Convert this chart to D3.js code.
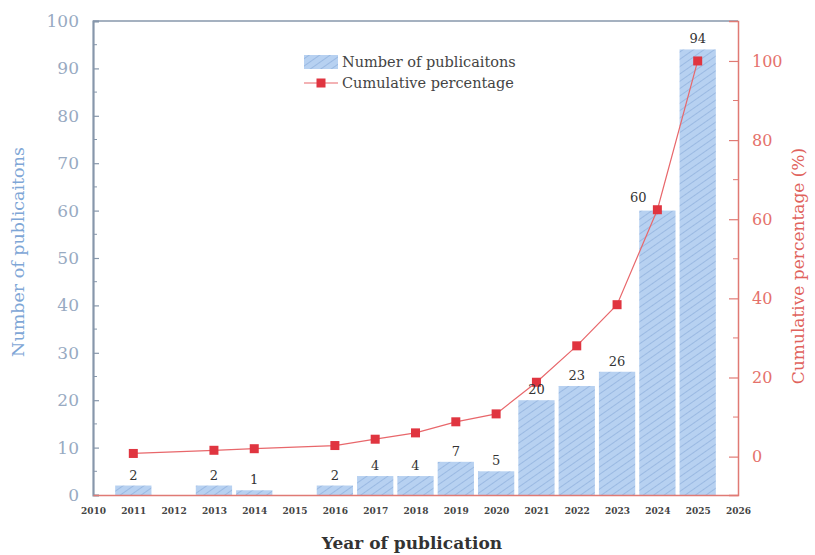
<!DOCTYPE html>
<html>
<head>
<meta charset="utf-8">
<script src="https://cdn.jsdelivr.net/npm/d3@7/dist/d3.min.js"></script>
<style>
  body { margin: 0; background: #fff; }
  svg { display: block; }
</style>
</head>
<body>
<svg id="chart" width="815" height="555"></svg>
<script>
const years = [2011, 2013, 2014, 2016, 2017, 2018, 2019, 2020, 2021, 2022, 2023, 2024, 2025];
const counts = [2, 2, 1, 2, 4, 4, 7, 5, 20, 23, 26, 60, 94];
const cumulative = [0.8, 1.6, 2.0, 2.8, 4.4, 6.0, 8.8, 10.8, 18.8, 28.0, 38.4, 62.4, 100];
const xTicks = d3.range(2010, 2027);
const leftTicks = [0, 10, 20, 30, 40, 50, 60, 70, 80, 90, 100];
const rightTicks = [0, 20, 40, 60, 80, 100];

const svg = d3.select("#chart");
const L = 93, R = 738, T = 21, B = 495;
const serif = "'DejaVu Serif', 'Liberation Serif', serif";

const x = d3.scaleLinear().domain([2010, 2026]).range([L, R]);
const yL = d3.scaleLinear().domain([0, 100]).range([B, T]);
const yR = d3.scaleLinear().domain([-9.7, 110.1]).range([B, T]);
const barW = (x(2011) - x(2010)) * 0.9;

// hatch pattern
const defs = svg.append("defs");
const pat = defs.append("pattern").attr("id", "hatch").attr("patternUnits", "userSpaceOnUse")
  .attr("width", 6).attr("height", 6).attr("patternTransform", "rotate(-35)");
pat.append("rect").attr("width", 6).attr("height", 6).attr("fill", "#b7d1f1");
pat.append("line").attr("x1", 0).attr("y1", 0).attr("x2", 6).attr("y2", 0)
  .attr("stroke", "#8badda").attr("stroke-width", 1.3);

// bars
svg.append("g").selectAll("rect").data(years).join("rect")
  .attr("x", (d) => x(d) - barW / 2)
  .attr("width", barW)
  .attr("y", (d, i) => yL(counts[i]))
  .attr("height", (d, i) => B - yL(counts[i]))
  .attr("fill", "url(#hatch)");

// frame: top + left grey, right + bottom red
const grey = "#8797ab", red = "#e07a74";
svg.append("line").attr("x1", L).attr("x2", R).attr("y1", T).attr("y2", T).attr("stroke", grey).attr("stroke-width", 1.5);

// left axis
const gL = svg.append("g").attr("transform", `translate(${L},0)`)
  .call(d3.axisLeft(yL).tickValues(leftTicks).tickSize(-6).tickPadding(14));
gL.select(".domain").attr("stroke", grey).attr("stroke-width", 2.2);
gL.selectAll(".tick line").attr("stroke", grey).attr("stroke-width", 1.2);
gL.selectAll(".tick text").attr("fill", "#98aac2").attr("font-family", serif).attr("font-size", 17);
gL.append("g").selectAll("line").data(d3.range(5, 100, 10)).join("line")
  .attr("x1", 0).attr("x2", 4).attr("y1", (d) => yL(d)).attr("y2", (d) => yL(d))
  .attr("stroke", grey).attr("stroke-width", 1);

// right axis
const gR = svg.append("g").attr("transform", `translate(${R},0)`)
  .call(d3.axisRight(yR).tickValues(rightTicks).tickSize(-9).tickPadding(14));
gR.select(".domain").attr("stroke", red).attr("stroke-width", 1.5);
gR.selectAll(".tick line").attr("stroke", red).attr("stroke-width", 1.2);
gR.selectAll(".tick text").attr("fill", "#e5716b").attr("font-family", serif).attr("font-size", 16);
gR.append("g").selectAll("line").data(d3.range(10, 110, 20)).join("line")
  .attr("x1", 0).attr("x2", -5).attr("y1", (d) => yR(d)).attr("y2", (d) => yR(d))
  .attr("stroke", red).attr("stroke-width", 1);

// bottom axis
const gB = svg.append("g").attr("transform", `translate(0,${B})`)
  .call(d3.axisBottom(x).tickValues(xTicks).tickFormat(d3.format("d")).tickSize(0).tickPadding(13));
gB.select(".domain").attr("stroke", red).attr("stroke-width", 1.5);
gB.selectAll(".tick text").attr("fill", "#444").attr("font-family", serif).attr("font-size", 9).attr("font-weight", "bold");

// cumulative line
const line = d3.line().x((d, i) => x(years[i])).y((d) => yR(d));
svg.append("path").datum(cumulative).attr("d", line)
  .attr("fill", "none").attr("stroke", "#e8676b").attr("stroke-width", 1.2);
svg.append("g").selectAll("rect").data(cumulative).join("rect")
  .attr("x", (d, i) => x(years[i]) - 4.5).attr("y", (d) => yR(d) - 4.5)
  .attr("width", 9).attr("height", 9).attr("fill", "#e03540");

// value labels
svg.append("g").selectAll("text").data(counts).join("text")
  .attr("x", (d, i) => x(years[i]) + (years[i] === 2024 ? -19 : 0))
  .attr("y", (d, i) => yL(d) - (years[i] === 2024 ? 9 : 6))
  .attr("text-anchor", "middle")
  .attr("font-family", serif).attr("font-size", 13).attr("fill", "#333")
  .text((d) => d);

// legend
const lg = svg.append("g");
lg.append("rect").attr("x", 304).attr("y", 55).attr("width", 34).attr("height", 14).attr("fill", "url(#hatch)");
lg.append("text").attr("x", 342).attr("y", 67).attr("font-family", serif).attr("font-size", 14.5).attr("fill", "#444")
  .text("Number of publicaitons");
lg.append("line").attr("x1", 304).attr("x2", 338).attr("y1", 83).attr("y2", 83).attr("stroke", "#e8676b").attr("stroke-width", 1.2);
lg.append("rect").attr("x", 316.5).attr("y", 78.5).attr("width", 9).attr("height", 9).attr("fill", "#e03540");
lg.append("text").attr("x", 342).attr("y", 88).attr("font-family", serif).attr("font-size", 14.5).attr("fill", "#444")
  .text("Cumulative percentage");

// axis titles
svg.append("text").attr("x", 412).attr("y", 549).attr("text-anchor", "middle")
  .attr("font-family", serif).attr("font-size", 17).attr("font-weight", "bold").attr("fill", "#333")
  .text("Year of publication");
svg.append("text").attr("transform", "translate(24,252) rotate(-90)").attr("text-anchor", "middle")
  .attr("font-family", serif).attr("font-size", 17.5).attr("fill", "#7ea6d6")
  .text("Number of publicaitons");
svg.append("text").attr("transform", "translate(804,266) rotate(-90)").attr("text-anchor", "middle")
  .attr("font-family", serif).attr("font-size", 17).attr("fill", "#e0625c")
  .text("Cumulative percentage (%)");
</script>
</body>
</html>
